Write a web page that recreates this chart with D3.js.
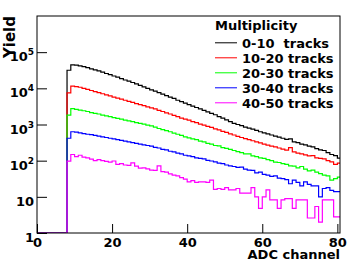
<!DOCTYPE html>
<html>
<head>
<meta charset="utf-8">
<script src="https://cdn.jsdelivr.net/npm/d3@7"></script>
<style>
	html, body{ margin:0; padding:0; background:#fff; }
	svg{ display:block; font-family:"DejaVu Sans", sans-serif; font-weight:bold; }
</style>
</head>
<body>
<div id="chart"></div>
<script>
// histogram bins, 1 ADC channel wide; bins below firstBin are empty
var firstBin = 8
	, lastBin = 80

	, black = [31600, 44700, 43700, 41700, 39800, 37200, 34700, 32400, 30200, 28200,
		25700, 24000, 21900, 20400, 18600, 17000, 15800, 14500, 13200, 12000,
		11000, 10000, 9120, 8320, 7590, 6920, 6310, 5750, 5250, 4680,
		4270, 3890, 3550, 3240, 2950, 2690, 2450, 2240, 2040, 1860,
		1660, 1510, 1350, 1200, 1070, 1000, 933, 851, 794, 741,
		692, 631, 589, 550, 513, 479, 447, 417, 389, 398,
		331, 316, 288, 275, 251, 240, 214, 200, 191, 166,
		148, 138, 117]
	, red = [7500, 11500, 11200, 10700, 10000, 9330, 8710, 8130, 7590, 7080,
		6610, 6170, 5750, 5370, 5010, 4680, 4370, 4070, 3800, 3550,
		3310, 3090, 2880, 2690, 2450, 2290, 2090, 1950, 1780, 1660,
		1510, 1410, 1320, 1200, 1120, 1020, 955, 891, 832, 759,
		708, 646, 603, 550, 513, 468, 437, 407, 380, 355,
		331, 309, 288, 269, 251, 240, 224, 209, 195, 229,
		174, 162, 155, 145, 135, 138, 120, 115, 112, 100,
		93, 79, 85]
	, green = [1820, 2750, 2630, 2510, 2400, 2290, 2140, 2040, 1950, 1820,
		1740, 1660, 1550, 1480, 1410, 1320, 1260, 1200, 1120, 1070,
		1020, 955, 912, 851, 776, 724, 676, 631, 575, 537,
		501, 457, 427, 398, 380, 347, 331, 302, 288, 263,
		257, 229, 219, 204, 191, 178, 166, 155, 155, 135,
		129, 120, 115, 107, 100, 91, 89, 83, 79, 72,
		71, 63, 69, 58, 52, 55, 48, 44, 40, 38,
		29, 32, 35]
	, blue = [417, 631, 617, 589, 562, 537, 525, 501, 479, 457,
		437, 417, 398, 380, 363, 347, 331, 316, 302, 288,
		275, 263, 251, 234, 224, 204, 200, 182, 174, 162,
		155, 141, 135, 129, 120, 115, 112, 102, 98, 93,
		85, 83, 76, 72, 69, 65, 66, 58, 55, 54,
		46, 48, 42, 40, 37, 38, 33, 32, 30, 23,
		29, 25, 20, 26, 22, 20, 20, 10, 17, 18,
		15, 14, 14]
	, magenta = [97, 148, 129, 141, 126, 120, 110, 100, 107, 100,
		95, 91, 98, 79, 83, 76, 74, 87, 71, 62,
		63, 59, 55, 54, 72, 50, 48, 43, 40, 38,
		34, 31, 26, 28, 25, 26, 26, 25, 29, 16,
		17, 16, 18, 15.5, 15.5, 17, 12.6, 12.6, 12.6, 18,
		10, 4.8, 10, 15.5, 8.2, 8.2, 4.8, 8.2, 8.9, 8.9,
		4.8, 8.2, 8.2, 8.2, 2.6, 2.6, 5.4, 2.0, 8.2, 8.2,
		8.2, 2.8, 2.8]

	, seriesNames = ['0-10  tracks', '10-20 tracks', '20-30 tracks', '30-40 tracks', '40-50 tracks']
	, seriesColors = ['#000000', '#ff0000', '#00ff00', '#0000ff', '#ff00ff']
	, series = [black, red, green, blue, magenta]

	, xMajor = [0, 20, 40, 60, 80]
	, xMinor = [5, 10, 15, 25, 30, 35, 45, 50, 55, 65, 70, 75]
	, yMajor = [1, 10, 100, 1e3, 1e4, 1e5]
	, yExp = ['', '', '2', '3', '4', '5']
	;

var W = 354, H = 261
	, pLeft = 37, pTop = 16, pRight = 340, pBottom = 233

	, x = d3.scaleLinear().domain([0, 80.7]).range([pLeft, pRight])
	, y = d3.scaleLog().domain([1, 1e6]).range([pBottom, pTop])

	, svg = d3.select('#chart').append('svg').attr('width', W).attr('height', H)
	;

// minor decade ticks 2..9
var yMinor = [];
yMajor.forEach(function(d){
	for(var k = 2; k < 10; k++) yMinor.push(d * k);
});

svg.append('clipPath').attr('id', 'frame').append('rect')
	.attr('x', pLeft).attr('y', pTop).attr('width', pRight - pLeft).attr('height', pBottom - pTop);

// histograms as step outlines
var line = d3.line()
	.x(function(d){ return x(d[0]); })
	.y(function(d){ return d[1] > 0 ? y(d[1]) : pBottom; })
	.curve(d3.curveStepAfter);

series.forEach(function(vals, s){
	var pts = [[0, 0]];
	vals.forEach(function(v, i){ pts.push([firstBin + i, v]); });
	pts.push([lastBin + 1, vals[vals.length - 1]]);

	svg.append('path').attr('clip-path', 'url(#frame)')
		.attr('d', line(pts))
		.attr('fill', 'none').attr('stroke', seriesColors[s]).attr('stroke-width', 1.2);
});

// axes, ticks drawn inward
var gx = svg.append('g').attr('transform', 'translate(0,' + pBottom + ')');
gx.call(d3.axisBottom(x).tickValues(xMinor).tickFormat('').tickSize(-4.5));
gx.call(d3.axisBottom(x).tickValues(xMajor).tickFormat(d3.format('d')).tickSize(-9).tickPadding(5));
gx.select('.domain').remove();
gx.selectAll('text').attr('font-size', 13).attr('font-family', 'DejaVu Sans').attr('font-weight', 'bold').attr('fill', '#000');

var gy = svg.append('g').attr('transform', 'translate(' + pLeft + ',0)');
gy.call(d3.axisLeft(y).tickValues(yMinor).tickFormat('').tickSize(-5));
gy.call(d3.axisLeft(y).tickValues(yMajor).tickFormat('').tickSize(-10));
gy.select('.domain').remove();
svg.selectAll('.tick line').attr('stroke', '#000');

var yl = svg.append('g').attr('font-size', 13).attr('text-anchor', 'end')
	.selectAll('text').data(yMajor).enter().append('text')
	.attr('x', 34).attr('y', function(d){ return y(d) + 9; });
yl.append('tspan').text(function(d, i){ return yExp[i] ? '10' : d3.format('d')(d); });
yl.append('tspan').attr('font-size', 9).attr('dy', -6).text(function(d, i){ return yExp[i]; });

// frame
svg.append('rect').attr('x', pLeft).attr('y', pTop).attr('width', pRight - pLeft).attr('height', pBottom - pTop)
	.attr('fill', 'none').attr('stroke', '#000').attr('stroke-width', 1);

// axis titles
svg.append('text').attr('x', pRight).attr('y', 259).attr('text-anchor', 'end').attr('font-size', 13)
	.text('ADC channel');
svg.append('text').attr('transform', 'translate(15,' + pTop + ') rotate(-90)').attr('text-anchor', 'end')
	.attr('font-size', 15).text('Yield');

// legend
var lg = svg.append('g');
lg.append('text').attr('x', 215).attr('y', 29.5).attr('font-size', 13).text('Multiplicity');
seriesNames.forEach(function(name, i){
	var by = 48.3 + 15 * i;
	lg.append('line').attr('x1', 215).attr('x2', 237).attr('y1', by - 5.5).attr('y2', by - 5.5)
		.attr('stroke', seriesColors[i]).attr('stroke-width', 1);
	lg.append('text').attr('x', 242).attr('y', by).attr('font-size', 13)
		.attr('xml:space', 'preserve').style('white-space', 'pre').text(name);
});
</script>
</body>
</html>
